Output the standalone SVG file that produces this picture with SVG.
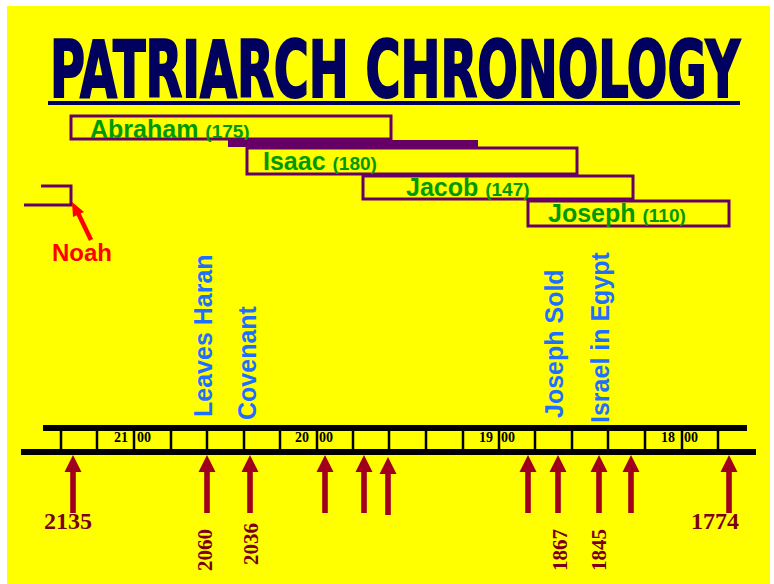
<svg xmlns="http://www.w3.org/2000/svg" xmlns:xlink="http://www.w3.org/1999/xlink" width="774" height="584" viewBox="0 0 774 584">
<style>
.box{fill:none;stroke:#660066;stroke-width:3}
.name{font-family:"Liberation Sans",Arial,sans-serif;font-weight:bold;font-size:25px;fill:#009a00}
.age{font-size:19px}
.evt{font-family:"Liberation Sans",Arial,sans-serif;font-weight:bold;font-size:25px;fill:#1f6fff}
.yr{font-family:"Liberation Serif","Times New Roman",serif;font-weight:bold;font-size:14px;fill:#000}
.date{font-family:"Liberation Serif","Times New Roman",serif;font-weight:bold;fill:#7a0012}
.tick{stroke:#000;stroke-width:2.5}
.bar{stroke:#000;stroke-width:6}
</style>
<defs>
<path id="arr" d="M0,0 L8.5,17 L2.8,17 L2.8,58 L-2.8,58 L-2.8,17 L-8.5,17 Z" fill="#a0001e"/>
</defs>
<rect x="7" y="6" width="763" height="578" fill="#ffff00"/>
<g id="title">
<text transform="translate(50,97) scale(1,1.5)" x="0" y="0" textLength="690" lengthAdjust="spacingAndGlyphs" font-family="'DejaVu Sans Condensed','DejaVu Sans',sans-serif" font-stretch="condensed" font-weight="bold" font-size="52" fill="#00005e" stroke="#00005e" stroke-width="1.4">PATRIARCH CHRONOLOGY</text>
<rect x="48" y="101" width="692" height="4" fill="#00005e"/>
</g>
<g id="abraham">
<rect class="box" x="71" y="116" width="320" height="23"/>
<text class="name" x="90" y="138">Abraham <tspan class="age">(175)</tspan></text>
</g>
<rect id="overlap-bar" x="228" y="140" width="250" height="7" fill="#660066"/>
<g id="isaac">
<rect class="box" x="247" y="148" width="330" height="26"/>
<text class="name" x="263" y="170">Isaac <tspan class="age">(180)</tspan></text>
</g>
<g id="jacob">
<rect class="box" x="363" y="176" width="270" height="23"/>
<text class="name" x="406" y="196">Jacob <tspan class="age">(147)</tspan></text>
</g>
<g id="joseph">
<rect class="box" x="528" y="201" width="201" height="25"/>
<text class="name" x="548" y="222">Joseph <tspan class="age">(110)</tspan></text>
</g>
<g id="noah">
<polyline points="41,186 71,186 71,205 24,205" fill="none" stroke="#660066" stroke-width="3"/>
<line x1="91" y1="240" x2="78" y2="213" stroke="#ff0000" stroke-width="4.5"/>
<polygon points="72,202 84,212 73,217" fill="#ff0000"/>
<text x="52" y="261" font-family="'Liberation Sans',Arial,sans-serif" font-weight="bold" font-size="24" fill="#ff0000">Noah</text>
</g>
<g id="events">
<text class="evt" transform="translate(212,417) rotate(-90)">Leaves Haran</text>
<text class="evt" transform="translate(256,420) rotate(-90)">Covenant</text>
<text class="evt" transform="translate(563,418) rotate(-90)">Joseph Sold</text>
<text class="evt" transform="translate(609,423) rotate(-90)">Israel in Egypt</text>
</g>
<g id="timeline">
<line class="bar" x1="43" y1="428" x2="747" y2="428"/>
<line class="bar" x1="21" y1="452" x2="756" y2="452"/>
<g class="tick">
<line x1="61" y1="431" x2="61" y2="449"/>
<line x1="97" y1="431" x2="97" y2="449"/>
<line x1="134" y1="431" x2="134" y2="449"/>
<line x1="171" y1="431" x2="171" y2="449"/>
<line x1="207" y1="431" x2="207" y2="449"/>
<line x1="244" y1="431" x2="244" y2="449"/>
<line x1="280" y1="431" x2="280" y2="449"/>
<line x1="317" y1="431" x2="317" y2="449"/>
<line x1="353" y1="431" x2="353" y2="449"/>
<line x1="389" y1="431" x2="389" y2="449"/>
<line x1="426" y1="431" x2="426" y2="449"/>
<line x1="463" y1="431" x2="463" y2="449"/>
<line x1="499" y1="431" x2="499" y2="449"/>
<line x1="535" y1="431" x2="535" y2="449"/>
<line x1="572" y1="431" x2="572" y2="449"/>
<line x1="608" y1="431" x2="608" y2="449"/>
<line x1="645" y1="431" x2="645" y2="449"/>
<line x1="682" y1="431" x2="682" y2="449"/>
<line x1="718" y1="431" x2="718" y2="449"/>
</g>
<text class="yr" x="114" y="442">21</text><text class="yr" x="137" y="442">00</text>
<text class="yr" x="295" y="442">20</text><text class="yr" x="319" y="442">00</text>
<text class="yr" x="479" y="442">19</text><text class="yr" x="501" y="442">00</text>
<text class="yr" x="661" y="442">18</text><text class="yr" x="684" y="442">00</text>
</g>
<g id="arrows">
<use xlink:href="#arr" x="73" y="455"/>
<use xlink:href="#arr" x="207" y="455"/>
<use xlink:href="#arr" x="250" y="455"/>
<use xlink:href="#arr" x="325" y="455"/>
<use xlink:href="#arr" x="364" y="455"/>
<use xlink:href="#arr" x="388" y="457"/>
<use xlink:href="#arr" x="528" y="455"/>
<use xlink:href="#arr" x="558" y="455"/>
<use xlink:href="#arr" x="599" y="455"/>
<use xlink:href="#arr" x="631" y="455"/>
<use xlink:href="#arr" x="729" y="455"/>
</g>
<g id="dates">
<text class="date" x="44" y="529" font-size="24">2135</text>
<text class="date" x="691" y="529" font-size="24">1774</text>
<text class="date" font-size="21" transform="translate(212,571) rotate(-90)">2060</text>
<text class="date" font-size="21" transform="translate(258,565) rotate(-90)">2036</text>
<text class="date" font-size="21" transform="translate(567,571) rotate(-90)">1867</text>
<text class="date" font-size="21" transform="translate(606,571) rotate(-90)">1845</text>
</g>
</svg>
